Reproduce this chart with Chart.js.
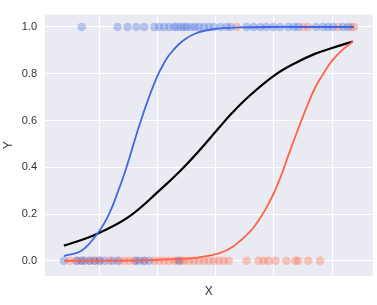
<!DOCTYPE html>
<html>
<head>
<meta charset="utf-8">
<script src="https://cdn.jsdelivr.net/npm/chart.js@4/dist/chart.umd.min.js"></script>
<style>
  body { margin: 0; background: #fff; }
  #container { width: 377px; height: 305px; }
</style>
</head>
<body>
<div id="container"><canvas id="myChart"></canvas></div>
<script>
// points sitting at y = 1
const topBlueX = [-2.308, -1.692, -1.521, -1.368, -1.231, -1.060, -0.974, -0.889, -0.803, -0.718, -0.667, -0.598, -0.547, -0.496, -0.427, -0.359, -0.291, -0.205, -0.120, -0.034, 0.085, 0.188, 0.256, 0.530, 0.650, 0.769, 0.872, 0.991, 1.111, 1.248, 1.350, 1.419, 1.726, 1.846, 1.932, 2.017, 2.188, 2.274]
const topRedX = [0.359, 1.504, 1.590, 2.103, 2.325, 2.376]
// points sitting at y = 0
const bottomBlueX = [-2.615, -2.393, -2.308, -2.256, -2.171, -2.085, -2.0, -1.915, -1.778, -1.692, -1.368, -1.316, -1.231, -1.145, -0.632]
const bottomRedX = [-2.513, -2.393, -2.308, -2.171, -2.085, -2.0, -1.829, -1.658, -1.573, -1.487, -1.402, -1.231, -1.060, -0.974, -0.889, -0.803, -0.718, -0.667, -0.598, -0.547, -0.462, -0.376, -0.291, -0.205, -0.120, -0.034, 0.051, 0.137, 0.222, 0.530, 0.735, 0.821, 0.906, 1.026, 1.214, 1.368, 1.419, 1.590, 1.795]

// fitted curves
const blueCurveX = [-2.615, -2.3, -2.0, -1.829, -1.7, -1.544, -1.316, -1.15, -1.003, -0.9, -0.803, -0.65, -0.518, -0.35, -0.176, 0.1, 0.393, 0.9, 1.419, 2.376]
const blueCurveY = [0.02, 0.045, 0.13, 0.205, 0.285, 0.395, 0.58, 0.70, 0.792, 0.842, 0.88, 0.923, 0.95, 0.972, 0.985, 0.995, 0.998, 1.0, 1.0, 1.0]
const blackCurveX = [-2.615, -2.3, -2.0, -1.487, -0.974, -0.632, -0.291, 0.051, 0.279, 0.6, 1.021, 1.362, 1.704, 2.0, 2.359]
const blackCurveY = [0.065, 0.09, 0.12, 0.19, 0.30, 0.38, 0.47, 0.568, 0.632, 0.71, 0.795, 0.845, 0.885, 0.91, 0.938]
const redCurveX = [-2.615, -1.6, -1.145, -0.6, -0.291, 0.051, 0.279, 0.564, 0.7, 0.850, 1.0, 1.133, 1.276, 1.419, 1.56, 1.704, 1.85, 1.988, 2.17, 2.359]
const redCurveY = [0.0, 0.001, 0.003, 0.008, 0.015, 0.032, 0.058, 0.118, 0.16, 0.218, 0.29, 0.37, 0.47, 0.565, 0.655, 0.738, 0.80, 0.852, 0.90, 0.938]

const yTicks = [0, 0.2, 0.4, 0.6, 0.8, 1.0]

const blue = 'rgb(65, 105, 225)'
const red = 'rgb(255, 99, 71)'

const toPoints = (xs, ys) => xs.map((x, i) => ({ x: x, y: Array.isArray(ys) ? ys[i] : ys }))

const scatterSet = (xs, y, color) => ({
    type: 'scatter',
    data: toPoints(xs, y),
    backgroundColor: color,
    borderWidth: 0,
    pointRadius: 4.3,
    pointHoverRadius: 4.3,
    order: 2
})

const lineSet = (xs, ys, color, width) => ({
    type: 'line',
    data: toPoints(xs, ys),
    borderColor: color,
    borderWidth: width,
    pointRadius: 0,
    fill: false,
    tension: 0.4,
    order: 1
})

const plotBg = {
    id: 'plotBg',
    beforeDraw(chart) {
        const { ctx, chartArea } = chart
        ctx.save()
        ctx.fillStyle = '#EAEAF2'
        ctx.fillRect(chartArea.left, chartArea.top, chartArea.right - chartArea.left, chartArea.bottom - chartArea.top)
        ctx.restore()
    }
}

const ctx = document.getElementById('myChart')
new Chart(ctx, {
    data: {
        datasets: [
            scatterSet(topBlueX, 1, 'rgba(65, 105, 225, 0.33)'),
            scatterSet(topRedX, 1, 'rgba(255, 99, 71, 0.33)'),
            scatterSet(bottomBlueX, 0, 'rgba(65, 105, 225, 0.33)'),
            scatterSet(bottomRedX, 0, 'rgba(255, 99, 71, 0.33)'),
            lineSet(blueCurveX, blueCurveY, blue, 1.8),
            lineSet(redCurveX, redCurveY, red, 1.8),
            lineSet(blackCurveX, blackCurveY, '#000', 2.2)
        ]
    },
    options: {
        responsive: true,
        maintainAspectRatio: false,
        animation: false,
        layout: { padding: { top: 3, right: 2, left: 0, bottom: 0 } },
        plugins: { legend: { display: false }, tooltip: { enabled: false } },
        scales: {
            x: {
                type: 'linear',
                min: -2.94,
                max: 2.70,
                afterFit: s => { s.height = 29 },
                border: { display: false },
                grid: { color: '#fff', lineWidth: 1, drawTicks: false },
                ticks: { display: false, stepSize: 1 },
                afterBuildTicks: s => { s.ticks = [-2, -1, 0, 1, 2].map(v => ({ value: v })) },
                title: { display: true, text: 'X', color: '#333', font: { family: 'Liberation Sans', size: 12 }, padding: { top: 0, bottom: 6 } }
            },
            y: {
                type: 'linear',
                min: -0.065,
                max: 1.053,
                afterFit: s => { s.width = 45 },
                border: { display: false },
                grid: { color: '#fff', lineWidth: 1, drawTicks: false },
                afterBuildTicks: s => { s.ticks = yTicks.map(v => ({ value: v })) },
                ticks: {
                    padding: 8,
                    color: '#333',
                    font: { family: 'Liberation Sans', size: 11 },
                    callback: v => v.toFixed(1)
                },
                title: { display: true, text: 'Y', color: '#333', font: { family: 'Liberation Sans', size: 12 }, padding: { top: 1, bottom: 0 } }
            }
        }
    },
    plugins: [plotBg]
})
</script>
</body>
</html>
